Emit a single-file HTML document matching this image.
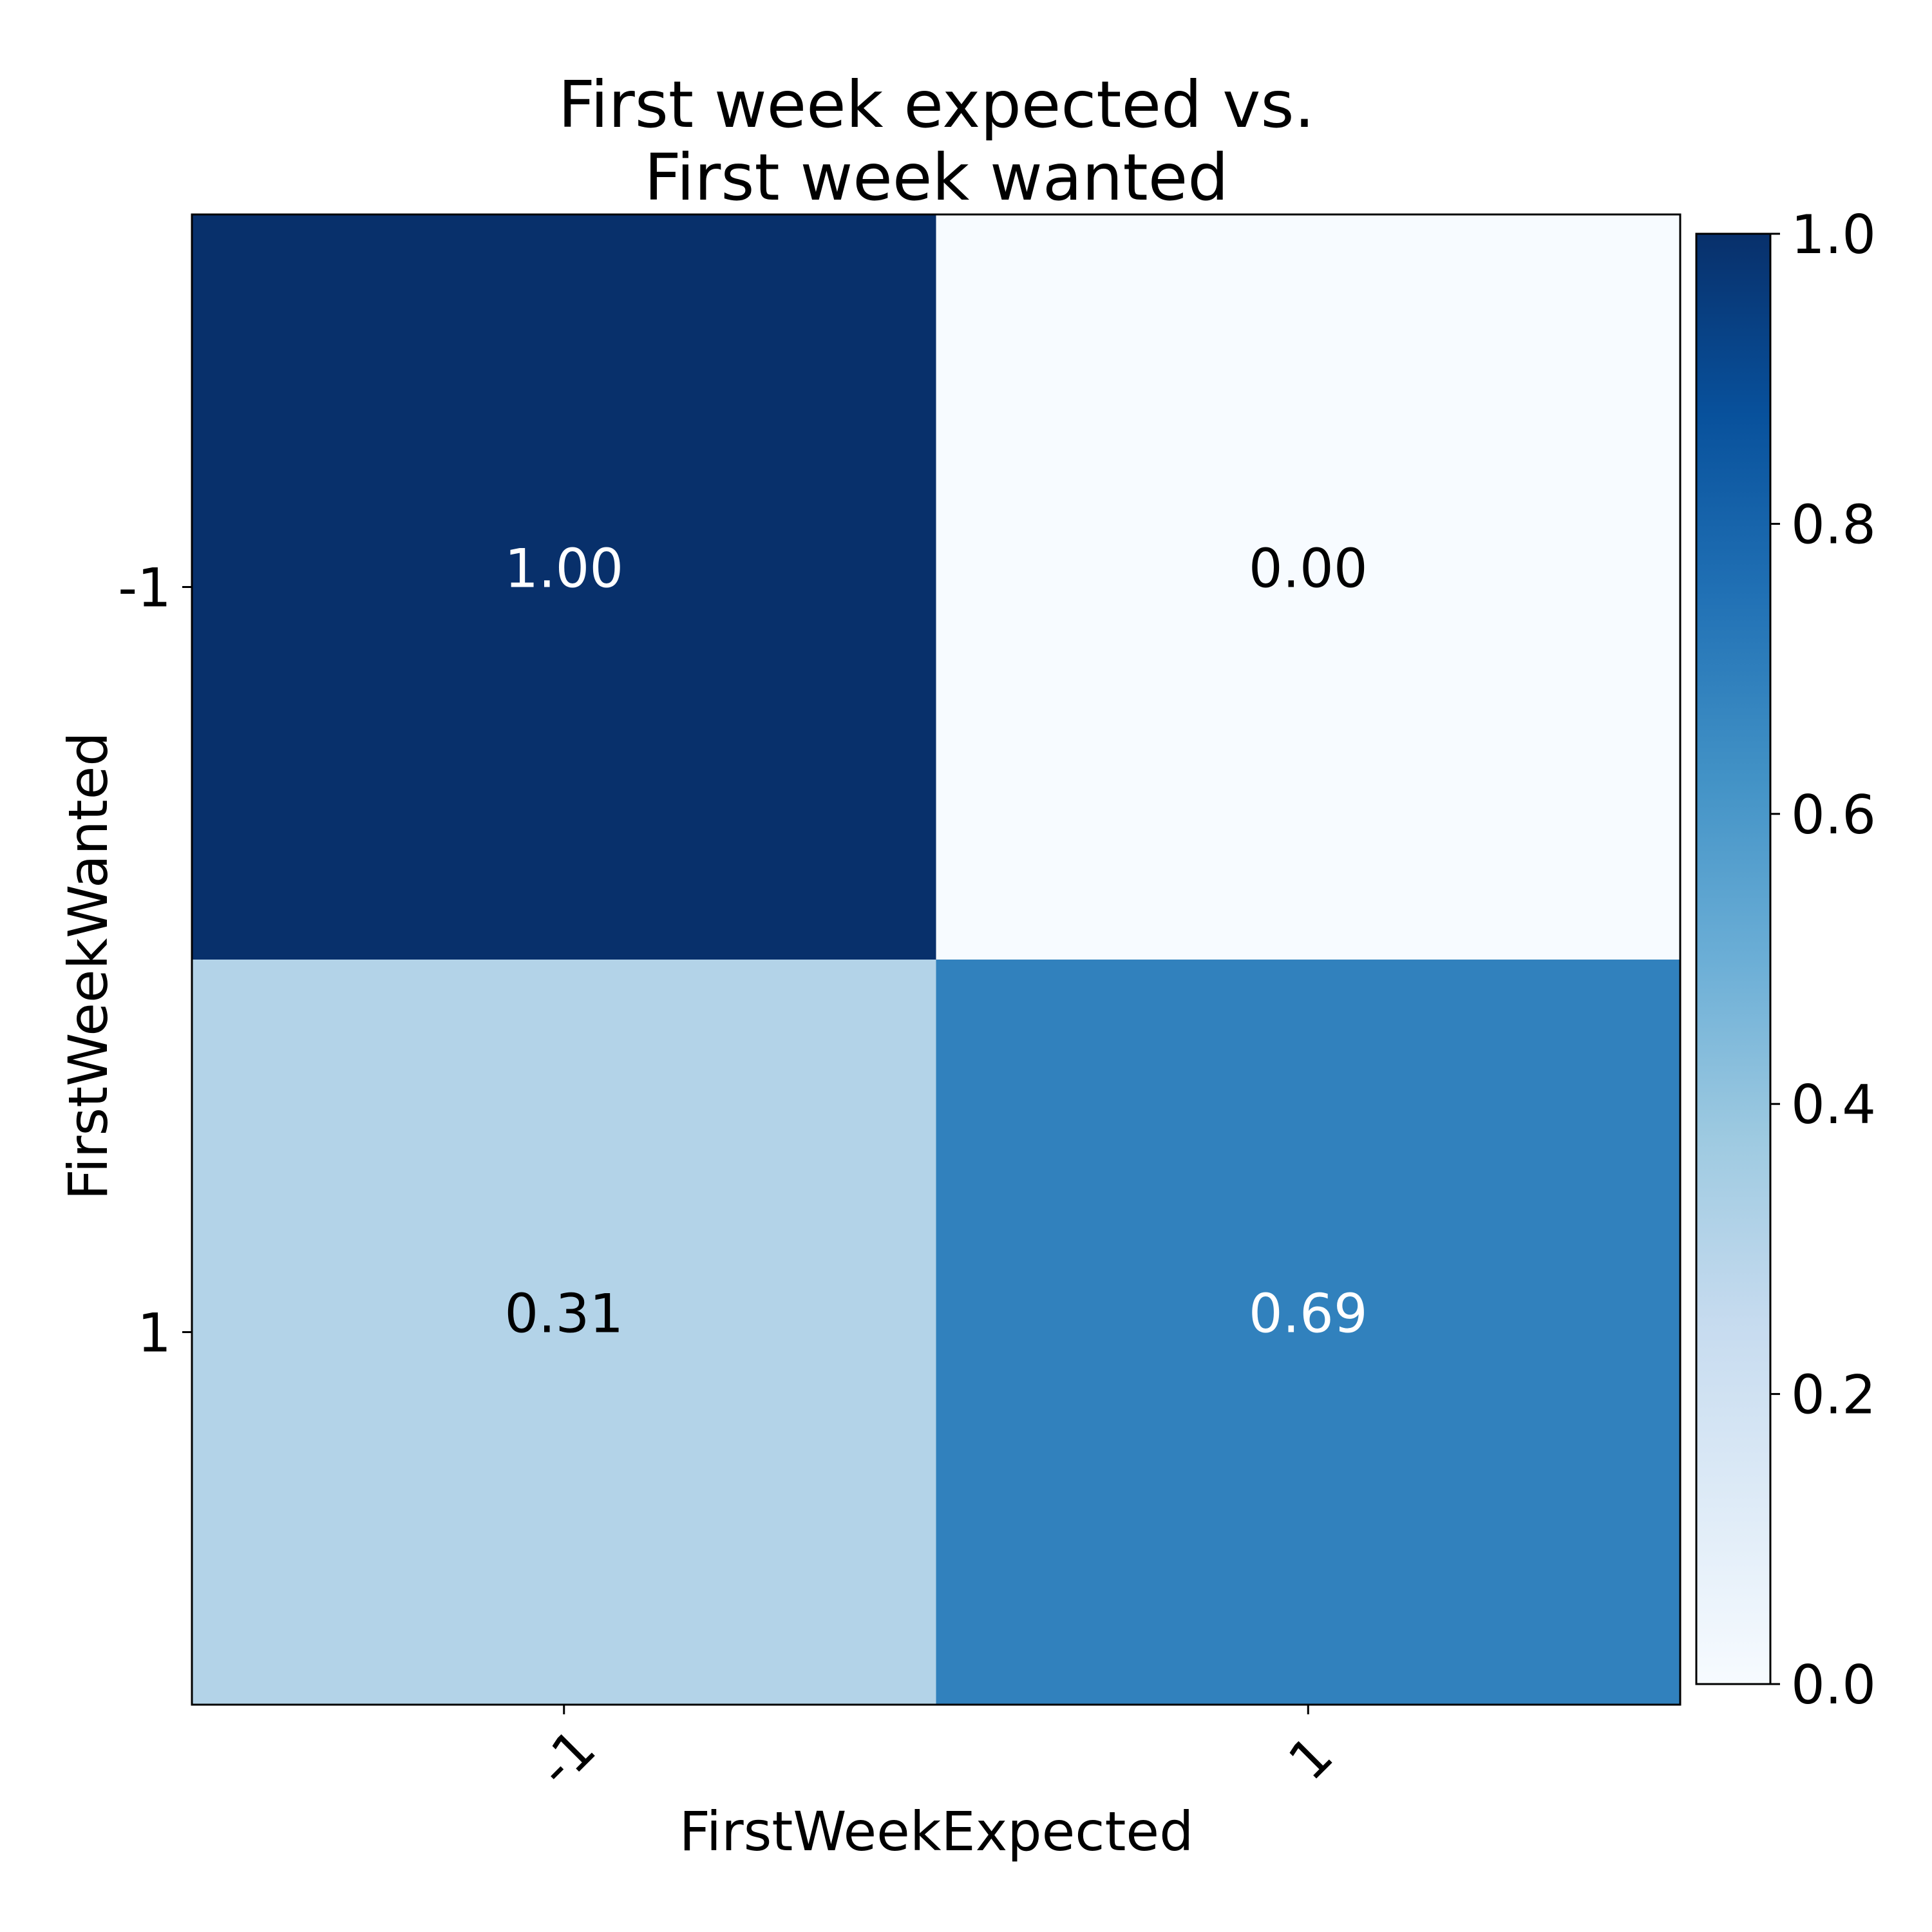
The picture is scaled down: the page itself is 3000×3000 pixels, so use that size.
<!DOCTYPE html>
<html><head><meta charset="utf-8"><style>
html,body{margin:0;padding:0;background:#fff;}
svg{display:block;font-family:"DejaVu Sans","Liberation Sans",sans-serif;}
</style></head><body>
<svg id="chart" width="3000" height="3000" viewBox="0 0 3000 3000" xmlns="http://www.w3.org/2000/svg">
<defs>
<linearGradient id="blues" x1="0" y1="1" x2="0" y2="0">
<stop offset="0" stop-color="#f7fbff"/><stop offset="0.125" stop-color="#deebf7"/><stop offset="0.25" stop-color="#c6dbef"/><stop offset="0.375" stop-color="#9ecae1"/><stop offset="0.5" stop-color="#6baed6"/><stop offset="0.625" stop-color="#4292c6"/><stop offset="0.75" stop-color="#2171b5"/><stop offset="0.875" stop-color="#08519c"/><stop offset="1" stop-color="#08306b"/>
</linearGradient>
</defs>
<text x="1454" y="197" font-size="100" text-anchor="middle">First week expected vs.</text>
<text x="1454" y="310" font-size="100" text-anchor="middle">First week wanted</text>
<g id="cells"></g>
<rect x="298" y="333" width="2311" height="2314" fill="none" stroke="#000" stroke-width="3"/>
<g id="ticks"></g>
<text x="1454" y="2873" font-size="84" text-anchor="middle">FirstWeekExpected</text>
<text transform="translate(166,1500) rotate(-90)" font-size="84" text-anchor="middle">FirstWeekWanted</text>
<rect x="2634" y="363" width="115" height="2252" fill="url(#blues)" stroke="#000" stroke-width="3"/>
<g id="cbticks"></g>
</svg>
<script>
const xCategories = ["-1", "1"];
const yCategories = ["-1", "1"];
const row0Values = [1.00, 0.00];
const row1Values = [0.31, 0.69];
const colorbarTicks = [0.0, 0.2, 0.4, 0.6, 0.8, 1.0];
const colorbarTickLabels = ["0.0", "0.2", "0.4", "0.6", "0.8", "1.0"];

const NS = "http://www.w3.org/2000/svg";
const AX = {l:298, t:333, w:2311, h:2314};
const CB = {t:363, b:2615, r:2749};
const FS = 83;
const matrix = [row0Values, row1Values];
function xPos(i){ return AX.l + AX.w * (i + 0.5) / xCategories.length; }
function yPos(j){ return AX.t + AX.h * (j + 0.5) / yCategories.length; }
function cbY(v){ return CB.b - (CB.b - CB.t) * v; }
const stops = [[0,[247,251,255]],[0.125,[222,235,247]],[0.25,[198,219,239]],[0.375,[158,202,225]],[0.5,[107,174,214]],[0.625,[66,146,198]],[0.75,[33,113,181]],[0.875,[8,81,156]],[1,[8,48,107]]];
function blues(v){
  v = Math.max(0, Math.min(1, v));
  for (let k = 0; k < stops.length - 1; k++) {
    const a = stops[k], b = stops[k+1];
    if (v <= b[0]) {
      const f = (v - a[0]) / (b[0] - a[0]);
      const c = a[1].map((x, i) => Math.round(x + (b[1][i] - x) * f));
      return "rgb(" + c.join(",") + ")";
    }
  }
  return "rgb(8,48,107)";
}
function mk(tag, attrs, parent){
  const e = document.createElementNS(NS, tag);
  for (const k in attrs) e.setAttribute(k, attrs[k]);
  parent.appendChild(e);
  return e;
}
const cells = document.getElementById("cells");
const cw = AX.w / xCategories.length, ch = AX.h / yCategories.length;
matrix.forEach((row, j) => {
  row.forEach((v, i) => {
    const r = mk("rect", {x: AX.l + cw * i, y: AX.t + ch * j, width: cw + 0.5, height: ch + 0.5, fill: blues(v)}, cells);
    
    
    const t = mk("text", {x: xPos(i), y: yPos(j), "font-size": FS, "text-anchor": "middle", fill: v > 0.5 ? "#fff" : "#000"}, cells);
    
    
    t.textContent = v.toFixed(2);
  });
});
const ticks = document.getElementById("ticks");
xCategories.forEach((c, i) => {
  const x = xPos(i);
  const l = mk("line", {x1: x, y1: AX.t + AX.h, x2: x, y2: AX.t + AX.h + 15, stroke: "#000", "stroke-width": 3}, ticks);
  
  
  const t = mk("text", {transform: "translate(" + (x + 4) + ",2730) rotate(-45)", "font-size": FS, "text-anchor": "middle", "dominant-baseline": "central"}, ticks);
  
  
  t.textContent = c;
});
yCategories.forEach((c, j) => {
  const y = yPos(j);
  const l = mk("line", {x1: AX.l - 15, y1: y, x2: AX.l, y2: y, stroke: "#000", "stroke-width": 3}, ticks);
  
  
  const t = mk("text", {x: 266, y: y + 30, "font-size": FS, "text-anchor": "end"}, ticks);
  
  
  t.textContent = c;
});
const cbt = document.getElementById("cbticks");
colorbarTicks.forEach((v, k) => {
  const y = cbY(v);
  const l = mk("line", {x1: CB.r, y1: y, x2: CB.r + 15, y2: y, stroke: "#000", "stroke-width": 3}, cbt);
  
  
  const t = mk("text", {x: 2781, y: y + 30, "font-size": FS}, cbt);
  
  
  t.textContent = colorbarTickLabels[k];
});
</script>
</body></html>
